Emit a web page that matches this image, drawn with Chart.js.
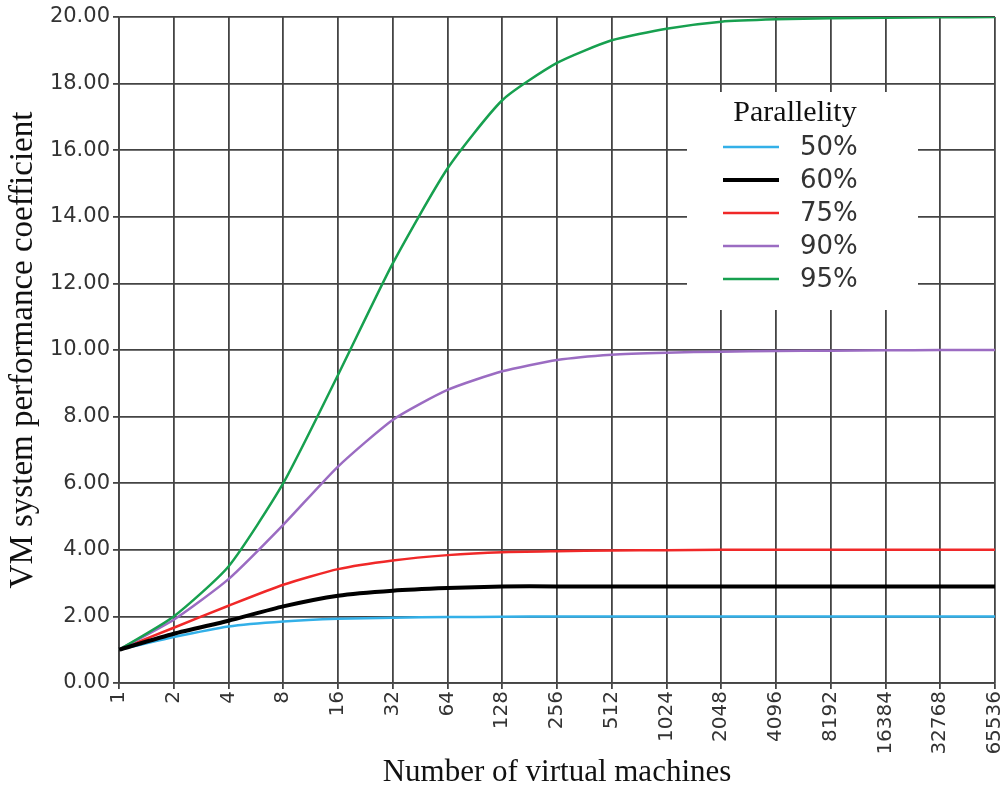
<!DOCTYPE html>
<html>
<head>
<meta charset="utf-8">
<script src="https://cdn.jsdelivr.net/npm/chart.js@4.4.1/dist/chart.umd.min.js"></script>
<style>
  html, body { margin: 0; padding: 0; background: #fff; }
  #wrap { width: 1005px; height: 787px; }
</style>
</head>
<body>
<div id="wrap"><canvas id="chart" width="1005" height="787"></canvas></div>
<script>
// x axis: number of virtual machines (powers of two)
const vmCounts = ["1", "2", "4", "8", "16", "32", "64", "128", "256", "512",
  "1024", "2048", "4096", "8192", "16384", "32768", "65536"];

// performance coefficient per parallelity level
const par50 = [1.00, 1.38, 1.70, 1.85, 1.93, 1.96, 1.98, 1.99, 2.00, 2.00, 2.00, 2.00, 2.00, 2.00, 2.00, 2.00, 2.00];
const par60 = [1.00, 1.48, 1.87, 2.30, 2.62, 2.77, 2.85, 2.90, 2.90, 2.90, 2.90, 2.90, 2.90, 2.90, 2.90, 2.90, 2.90];
const par75 = [1.00, 1.66, 2.32, 2.95, 3.42, 3.68, 3.84, 3.93, 3.96, 3.98, 3.99, 4.00, 4.00, 4.00, 4.00, 4.00, 4.00];
const par90 = [1.00, 1.90, 3.12, 4.75, 6.50, 7.90, 8.80, 9.36, 9.70, 9.86, 9.92, 9.95, 9.97, 9.98, 9.99, 10.00, 10.00];
const par95 = [1.00, 2.00, 3.50, 6.00, 9.25, 12.60, 15.45, 17.50, 18.62, 19.30, 19.65, 19.86, 19.93, 19.96, 19.98, 19.99, 20.00];

const seriesLabels = ["50%", "60%", "75%", "90%", "95%"];
const seriesColors = ["#33b0e8", "#000000", "#f02828", "#9b6cc2", "#17a04f"];
const seriesWidths = [2.5, 4, 2.5, 2.5, 2.5];

const gridColor = "#444";

// legend drawn inside the plot area, on a white box over the grid
const insideLegend = {
  id: "insideLegend",
  afterDatasetsDraw(chart) {
    const ctx = chart.ctx;
    ctx.save();
    ctx.fillStyle = "#fff";
    ctx.fillRect(687, 92, 231, 218);

    ctx.fillStyle = "#111";
    ctx.font = "30px 'Liberation Serif'";
    ctx.textAlign = "center";
    ctx.textBaseline = "middle";
    ctx.fillText("Parallelity", 795, 113);

    chart.data.datasets.forEach((ds, i) => {
      const y = 147 + i * 33;
      ctx.strokeStyle = ds.borderColor;
      ctx.lineWidth = ds.borderWidth;
      ctx.beginPath();
      ctx.moveTo(723, y);
      ctx.lineTo(779, y);
      ctx.stroke();
      ctx.fillStyle = "#333";
      ctx.font = "26px 'DejaVu Sans'";
      ctx.textAlign = "left";
      ctx.fillText(ds.label, 800, y + 1);
    });
    ctx.restore();
  },
};

const allSeries = [par50, par60, par75, par90, par95];

new Chart(document.getElementById("chart"), {
  type: "line",
  data: {
    labels: vmCounts,
    datasets: allSeries.map((values, i) => ({
      label: seriesLabels[i],
      data: values,
      borderColor: seriesColors[i],
      backgroundColor: seriesColors[i],
      borderWidth: seriesWidths[i],
      pointRadius: 0,
      tension: 0.2,
      order: i === 1 ? 0 : 5 - i,
    })),
  },
  options: {
    responsive: false,
    animation: false,
    layout: { padding: { left: 4, right: 10, top: 17, bottom: 0 } },
    plugins: {
      legend: { display: false },
      tooltip: { enabled: false },
    },
    scales: {
      x: {
        type: "category",
        offset: false,
        afterFit: (scale) => {
          scale.height = 104;
          scale.paddingLeft = 0;
          scale.paddingRight = 0;
        },
        grid: { color: gridColor, lineWidth: 1.8, tickLength: 6 },
        border: { color: gridColor, width: 1.8 },
        ticks: {
          minRotation: 90,
          maxRotation: 90,
          autoSkip: false,
          color: "#333",
          padding: 2,
          font: { family: "DejaVu Sans", size: 20 },
        },
        title: {
          display: true,
          text: "Number of virtual machines",
          color: "#111",
          font: { family: "Liberation Serif", size: 31 },
          padding: { top: 0, bottom: -4 },
        },
      },
      y: {
        min: 0,
        max: 20,
        afterFit: (scale) => { scale.width = 115; },
        grid: { color: gridColor, lineWidth: 1.8, tickLength: 6 },
        border: { color: gridColor, width: 1.8 },
        ticks: {
          stepSize: 2,
          color: "#333",
          padding: 3,
          font: { family: "DejaVu Sans", size: 21 },
          callback: (v) => v.toFixed(2),
        },
        title: {
          display: true,
          text: "VM system performance coefficient",
          color: "#111",
          font: { family: "Liberation Serif", size: 33 },
          padding: { top: 0, bottom: 0 },
        },
      },
    },
  },
  plugins: [insideLegend],
});
</script>
</body>
</html>
